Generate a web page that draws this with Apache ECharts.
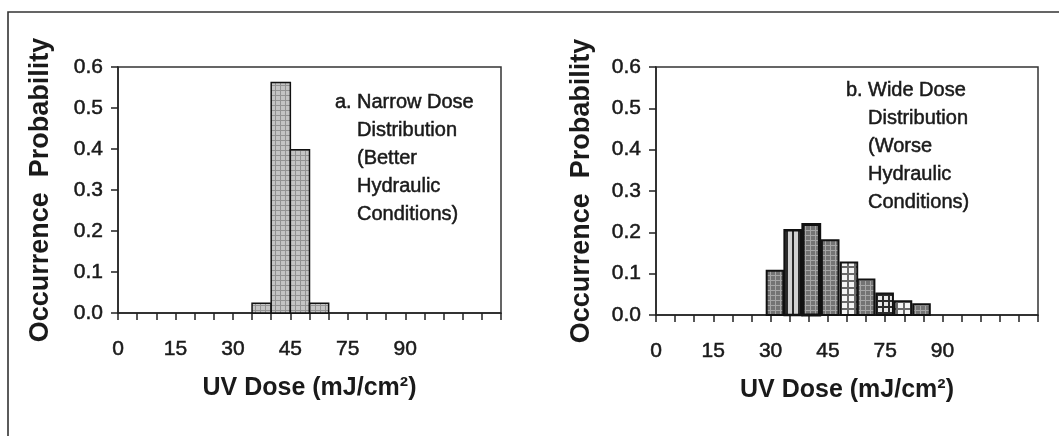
<!DOCTYPE html>
<html>
<head>
<meta charset="utf-8">
<script src="https://cdn.jsdelivr.net/npm/echarts@6/dist/echarts.min.js"></script>
<style>
  html, body { margin: 0; padding: 0; background: #ffffff; }
  #chart { width: 1059px; height: 436px; }
</style>
</head>
<body>
<div id="chart"></div>
<script>
// ---- data ----
// x axis runs over 20 dose bins (bin index units); every third tick carries a label
const doseTickLabels = ['0', '15', '30', '45', '75', '90'];
const doseBinCount = 20;

// a. narrow dose distribution: bin centres and occurrence probability
const narrowBinCenters = [7.5, 8.5, 9.5, 10.5];
const narrowProbability = [0.024, 0.562, 0.398, 0.024];

// b. wide dose distribution
const wideBinCenters = [6.23, 7.17, 8.13, 9.12, 10.1, 11.0, 11.97, 12.93, 13.9];
const wideProbability = [0.107, 0.205, 0.219, 0.181, 0.127, 0.086, 0.052, 0.033, 0.026];

const narrowNote = ['Narrow Dose', 'Distribution', '(Better', 'Hydraulic', 'Conditions)'];
const wideNote = ['Wide Dose', 'Distribution', '(Worse', 'Hydraulic', 'Conditions)'];

// ---- fill patterns ----
function gridPattern(size, bg, line, lw) {
  const c = document.createElement('canvas');
  c.width = size; c.height = size;
  const g = c.getContext('2d');
  g.fillStyle = bg; g.fillRect(0, 0, size, size);
  g.fillStyle = line;
  g.fillRect(0, 0, lw, size);
  g.fillRect(0, 0, size, lw);
  return { image: c, repeat: 'repeat' };
}
function stripePattern(width, bg, line, lw) {
  const c = document.createElement('canvas');
  c.width = width; c.height = 4;
  const g = c.getContext('2d');
  g.fillStyle = bg; g.fillRect(0, 0, width, 4);
  g.fillStyle = line; g.fillRect(0, 0, lw, 4);
  return { image: c, repeat: 'repeat' };
}

const fillGrey = gridPattern(5, '#c4c4c4', '#939393', 1);
const fillDark = gridPattern(5, '#747474', '#a6a6a6', 1);
const fillStripe = stripePattern(6, '#d2d2d2', '#2a2a2a', 2);
const fillPlaidLight = gridPattern(7, '#f4f4f4', '#6a6a6a', 2);
const fillPlaidDark = gridPattern(6, '#e8e8e8', '#2c2c2c', 2);

const narrowFills = [fillGrey, fillGrey, fillGrey, fillGrey];
const narrowBorders = [1.5, 1.5, 1.5, 1.5];
const wideFills = [fillDark, fillStripe, fillDark, fillDark, fillPlaidLight, fillDark, fillPlaidDark, fillPlaidLight, fillDark];
const wideBorders = [2, 2.5, 3.2, 2, 2, 2, 2, 2, 2];

// ---- helpers ----
const FONT = "'Liberation Sans', Arial, sans-serif";
const INK = '#1a1a1a';

function histogram(xIndex, centers, values, binWidth, fills, borders) {
  return {
    type: 'custom',
    xAxisIndex: xIndex,
    yAxisIndex: xIndex,
    data: centers.map((c, i) => [c, values[i]]),
    renderItem: function (params, api) {
      const i = params.dataIndex;
      const c = api.value(0);
      const v = api.value(1);
      const topLeft = api.coord([c - binWidth / 2, v]);
      const bottomRight = api.coord([c + binWidth / 2, 0]);
      return {
        type: 'rect',
        shape: {
          x: topLeft[0],
          y: topLeft[1],
          width: bottomRight[0] - topLeft[0],
          height: bottomRight[1] - topLeft[1]
        },
        style: { fill: fills[i], stroke: '#111111', lineWidth: borders[i] }
      };
    },
    z: 3
  };
}

// regular text drawn with a hairline outline so it reads a little heavier
const textWeight = { textBorderColor: INK, textBorderWidth: 0.5 };

function doseAxis(gridIndex) {
  return {
    type: 'value',
    gridIndex: gridIndex,
    min: 0,
    max: doseBinCount,
    interval: 1,
    name: 'UV Dose (mJ/cm²)',
    nameLocation: 'middle',
    nameGap: 63,
    nameTextStyle: { fontFamily: FONT, fontSize: 25, fontWeight: 'bold', color: INK },
    axisLine: { onZero: false, lineStyle: { color: '#222', width: 1.5 } },
    axisTick: { length: 7, lineStyle: { color: '#222', width: 1.5 } },
    axisLabel: Object.assign({
      margin: 26,
      fontFamily: FONT,
      fontSize: 21,
      color: INK,
      formatter: function (v) {
        if (v % 3 !== 0) return '';
        return doseTickLabels[v / 3] || '';
      }
    }, textWeight),
    splitLine: { show: false }
  };
}

function probAxis(gridIndex, gap) {
  return {
    type: 'value',
    gridIndex: gridIndex,
    min: 0,
    max: 0.6,
    interval: 0.1,
    name: 'Occurrence  Probability',
    nameLocation: 'middle',
    nameGap: gap,
    nameTextStyle: { fontFamily: FONT, fontSize: 27, fontWeight: 'bold', color: INK },
    axisLine: { show: true, lineStyle: { color: '#222', width: 1.5 } },
    axisTick: { show: true, length: 7, lineStyle: { color: '#222', width: 1.5 } },
    axisLabel: Object.assign({
      margin: 15,
      fontFamily: FONT,
      fontSize: 21,
      color: INK,
      formatter: function (v) { return v.toFixed(1); }
    }, textWeight),
    splitLine: { show: false }
  };
}

function noteText(x, y, tag, lines) {
  const style = Object.assign({ font: '20px ' + FONT, fill: INK, lineHeight: 28, verticalAlign: 'top' },
    { stroke: INK, lineWidth: 0.5 });
  return [
    { type: 'text', x: x, y: y, style: Object.assign({ text: tag }, style) },
    { type: 'text', x: x + 22, y: y, style: Object.assign({ text: lines.join('\n') }, style) }
  ];
}

const chart = echarts.init(document.getElementById('chart'), null, { renderer: 'canvas' });

chart.setOption({
  backgroundColor: '#ffffff',
  animation: false,
  grid: [
    { left: 118, right: 558, top: 67, bottom: 123, show: true, borderColor: '#333', borderWidth: 1.5, backgroundColor: 'transparent' },
    { left: 656, right: 21, top: 67, bottom: 121, show: true, borderColor: '#333', borderWidth: 1.5, backgroundColor: 'transparent' }
  ],
  xAxis: [doseAxis(0), doseAxis(1)],
  yAxis: [probAxis(0, 64), probAxis(1, 61)],
  series: [
    histogram(0, narrowBinCenters, narrowProbability, 1, narrowFills, narrowBorders),
    histogram(1, wideBinCenters, wideProbability, 0.87, wideFills, wideBorders)
  ],
  graphic: [
    { type: 'rect', shape: { x: 8, y: 12, width: 1200, height: 600 }, style: { fill: 'none', stroke: '#333', lineWidth: 1.6 }, silent: true },
    ...noteText(335, 88, 'a.', narrowNote),
    ...noteText(846, 76, 'b.', wideNote)
  ]
});
</script>
</body>
</html>
